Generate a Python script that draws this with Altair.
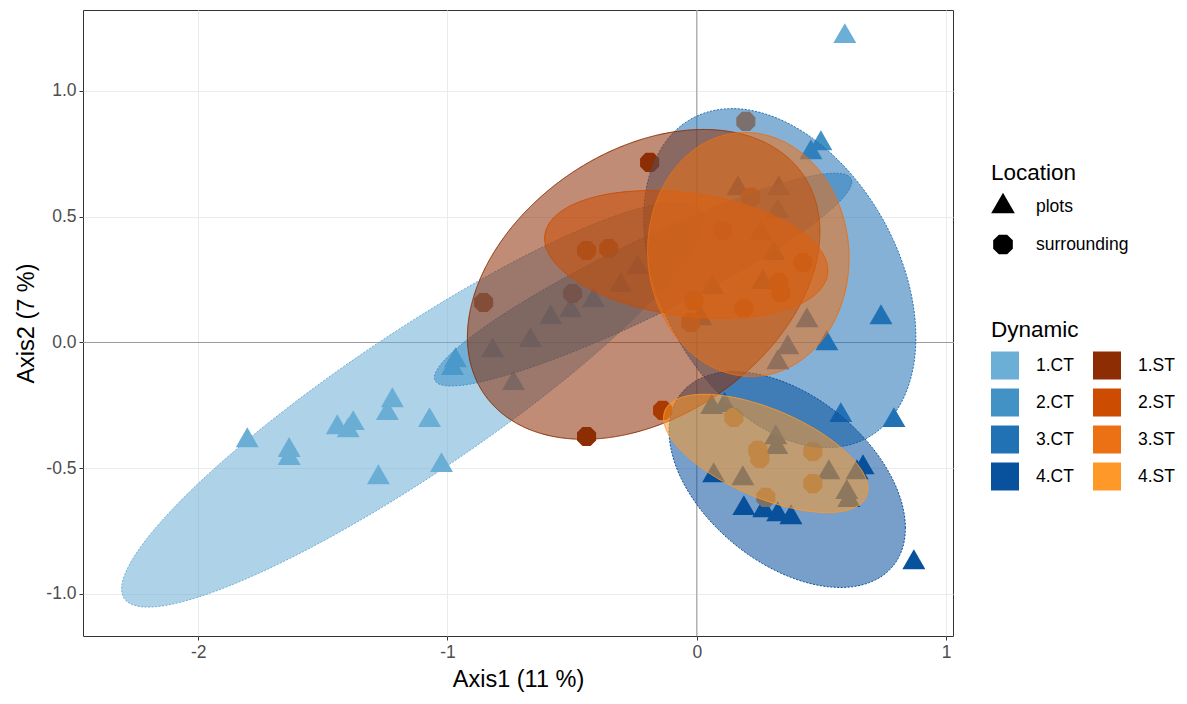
import altair as alt
import pandas as pd
import numpy as np

# ---------------- data ----------------
groups = ['1.CT', '2.CT', '3.CT', '4.CT', '1.ST', '2.ST', '3.ST', '4.ST']
group_colors = ['#6baed6', '#4292c6', '#2171b5', '#08519c',
                '#8c2d04', '#cc4c02', '#ec7014', '#fe9929']

# points: Dynamic group, Location, Axis1, Axis2
ct1_x = [0.594, -1.803, -1.635, -1.635, -1.442, -1.378, -1.398, -1.221, -1.241, -1.072, -1.277, -1.024, -0.735]
ct1_y = [1.217, -0.390, -0.429, -0.461, -0.338, -0.322, -0.350, -0.231, -0.282, -0.310, -0.537, -0.489, -0.163]
ct2_x = [-0.968, -0.980, -0.819, -0.667, -0.586, -0.506, -0.414, -0.305, -0.237, 0.498, 0.458]
ct2_y = [-0.072, -0.103, -0.032, 0.008, 0.099, 0.127, 0.167, 0.227, 0.298, 0.791, 0.755]
ct3_x = [0.165, 0.329, 0.325, 0.257, 0.309, 0.265, 0.064, 0.016, 0.442, 0.365, 0.325, 0.522, 0.739, 0.578, 0.791]
ct3_y = [0.612, 0.612, 0.521, 0.433, 0.354, 0.239, 0.219, 0.095, 0.087, -0.020, -0.080, -0.004, 0.099, -0.290, -0.310]
ct4_x = [0.189, 0.269, 0.325, 0.378, 0.068, 0.667, 0.871, 0.060, 0.112, 0.317, 0.321, 0.185, 0.530, 0.643, 0.602, 0.610]
ct4_y = [-0.660, -0.668, -0.684, -0.696, -0.529, -0.497, -0.875, -0.258, -0.250, -0.378, -0.417, -0.541, -0.517, -0.517, -0.596, -0.628]
st1_x = [-0.189, -0.442, -0.855, -0.498]
st1_y = [0.716, -0.374, 0.159, 0.195]
st2_x = [-0.442, -0.353, -0.137, 0.104]
st2_y = [0.366, 0.374, -0.270, 0.445]
st3_x = [0.197, 0.217, -0.012, 0.189, 0.426, 0.329, 0.337, -0.024]
st3_y = [0.879, 0.577, 0.167, 0.135, 0.318, 0.239, 0.199, 0.080]
st4_x = [0.149, 0.245, 0.253, 0.466, 0.466, 0.277]
st4_y = [-0.298, -0.429, -0.461, -0.433, -0.561, -0.616]

# ellipse parameters per group: centre, half-extent in x and y, correlation
ell_cx = [-1.141, -0.215, 0.333, 0.363, -0.213, -0.042, 0.207, 0.277]
ell_cy = [-0.247, 0.250, 0.256, -0.545, 0.231, 0.350, 0.350, -0.441]
ell_hx = [1.166, 0.837, 0.546, 0.474, 0.707, 0.568, 0.404, 0.410]
ell_hy = [0.805, 0.423, 0.674, 0.429, 0.616, 0.254, 0.485, 0.235]
ell_r = [0.91, 0.92, -0.35, -0.45, 0.34, -0.25, -0.03, -0.60]

x_ticks = [-2, -1, 0, 1]
y_ticks = [-1.0, -0.5, 0.0, 0.5, 1.0]
x_domain = [-2.462, 1.028]
y_domain = [-1.167, 1.322]

# ---------------- tables ----------------
pts = []
for g, loc, xs, ys in [('1.CT', 'plots', ct1_x, ct1_y), ('2.CT', 'plots', ct2_x, ct2_y),
                       ('3.CT', 'plots', ct3_x, ct3_y), ('4.CT', 'plots', ct4_x, ct4_y),
                       ('1.ST', 'surrounding', st1_x, st1_y), ('2.ST', 'surrounding', st2_x, st2_y),
                       ('3.ST', 'surrounding', st3_x, st3_y), ('4.ST', 'surrounding', st4_x, st4_y)]:
    for xv, yv in zip(xs, ys):
        pts.append({'Dynamic': g, 'Location': loc, 'Axis1': xv, 'Axis2': yv})
pts = pd.DataFrame(pts)

rows = []
t = np.linspace(0, 2 * np.pi, 181)
for k, g in enumerate(groups):
    cx, cy, hx, hy, r = ell_cx[k], ell_cy[k], ell_hx[k], ell_hy[k], ell_r[k]
    ex = cx + hx * np.cos(t)
    ey = cy + hy * (r * np.cos(t) + np.sqrt(1 - r * r) * np.sin(t))
    for i in range(len(t)):
        rows.append({'Dynamic': g, 'kind': g[-2:], 'idx': k * 1000 + i,
                     'Axis1': float(ex[i]), 'Axis2': float(ey[i])})
ell = pd.DataFrame(rows)

# ---------------- encodings ----------------
xscale = alt.Scale(domain=x_domain, nice=False, zero=False)
yscale = alt.Scale(domain=y_domain, nice=False, zero=False)
lab = "datum.value < 0 ? '-' + format(-datum.value, '{f}') : format(datum.value, '{f}')"

x_enc = alt.X('Axis1:Q', scale=xscale, title='Axis1 (11 %)',
              axis=alt.Axis(values=x_ticks, labelExpr=lab.format(f='d')))
y_enc = alt.Y('Axis2:Q', scale=yscale, title='Axis2 (7 %)',
              axis=alt.Axis(values=y_ticks, labelExpr=lab.format(f='.1f')))

tri = 'M0,-1.155L1,0.577L-1,0.577Z'
octo = 'M-0.35,-0.83L0.35,-0.83L0.83,-0.35L0.83,0.35L0.35,0.83L-0.35,0.83L-0.83,0.35L-0.83,-0.35Z'

ref = alt.Chart(pd.DataFrame({'v': [0.0]}))
vline = ref.mark_rule(color='#9a9a9a', strokeWidth=1).encode(x=alt.X('v:Q', scale=xscale))
hline = ref.mark_rule(color='#9a9a9a', strokeWidth=1).encode(y=alt.Y('v:Q', scale=yscale))

points = alt.Chart(pts).mark_point(filled=True, opacity=1, strokeWidth=0, size=529).encode(
    x=x_enc, y=y_enc,
    color=alt.Color('Dynamic:N', scale=alt.Scale(domain=groups, range=group_colors),
                    legend=alt.Legend(title='Dynamic', orient='none', legendX=908, legendY=309,
                                      columns=2, symbolType='square', symbolSize=784,
                                      symbolStrokeWidth=0, symbolOpacity=1, columnPadding=19,
                                      rowPadding=9, labelOffset=17)),
    shape=alt.Shape('Location:N', scale=alt.Scale(domain=['plots', 'surrounding'], range=[tri, octo]),
                    legend=alt.Legend(title='Location', orient='none', legendX=908, legendY=152,
                                      symbolSize=560, symbolFillColor='black', symbolStrokeColor='black',
                                      symbolStrokeWidth=0, rowPadding=17, labelOffset=21)),
)

ellipses = alt.Chart(ell).mark_line(fillOpacity=0.55, strokeWidth=1, interpolate='linear').encode(
    x=alt.X('Axis1:Q', scale=xscale),
    y=alt.Y('Axis2:Q', scale=yscale),
    stroke=alt.Stroke('Dynamic:N', scale=alt.Scale(domain=groups, range=group_colors), legend=None),
    fill=alt.Fill('Dynamic:N', scale=alt.Scale(domain=groups, range=group_colors), legend=None),
    strokeDash=alt.StrokeDash('kind:N', scale=alt.Scale(domain=['CT', 'ST'], range=[[2, 1.5], [1, 0]]),
                              legend=None),
    order=alt.Order('idx:Q'),
)

chart = alt.layer(vline, hline, points, ellipses).properties(
    width=870, height=626,
    autosize=alt.AutoSizeParams(type='none'),
    padding={'left': 75, 'top': 2, 'right': 226, 'bottom': 60},
).configure_view(
    stroke='#333333', strokeWidth=1
).configure_axis(
    grid=True, gridColor='#ebebeb', gridWidth=1, domain=False,
    tickColor='#333333', tickSize=4, tickWidth=1,
    labelFont='Liberation Sans', labelFontSize=17.5, labelColor='#4d4d4d', labelPadding=3,
    titleFont='Liberation Sans', titleFontSize=23.5, titleFontWeight='normal', titleColor='#000000',
    titlePadding=7,
).configure_legend(
    titleFont='Liberation Sans', titleFontSize=22.5, titleFontWeight='normal', titleColor='#000000',
    labelFont='Liberation Sans', labelFontSize=17.5, labelColor='#000000', titlePadding=10,
)

chart.save('out.html', embed_options={'renderer': 'svg', 'actions': False})
